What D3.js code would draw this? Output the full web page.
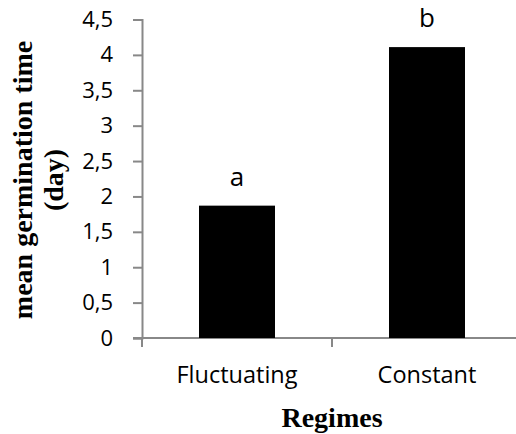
<!DOCTYPE html>
<html>
<head>
  <script src="https://cdnjs.cloudflare.com/ajax/libs/d3/7.8.5/d3.min.js"></script>
  <style>
    body { margin: 0; background: #fff; }
  </style>
</head>
<body>
  <svg width="516" height="434"></svg>
  <script>
    const categories = ['Fluctuating', 'Constant'];
    const values = [1.87, 4.11];
    const letters = ['a', 'b'];
    const yTicks = [0, 0.5, 1, 1.5, 2, 2.5, 3, 3.5, 4, 4.5];

    const svg = d3.select('svg');
    const axisColor = '#888';
    const sans = '"Open Sans", sans-serif';
    const serif = '"Liberation Serif", "Times New Roman", serif';

    const y = d3.scaleLinear().domain([0, 4.5]).range([338, 19.5]);
    const x = d3.scaleBand().domain(categories).range([142, 522])
      .paddingInner(0.6).paddingOuter(0.3);

    const fmt = d => String(d).replace('.', ',');

    // y axis
    const yAxis = svg.append('g')
      .attr('transform', 'translate(142,0)')
      .call(d3.axisLeft(y).tickValues(yTicks).tickFormat(fmt).tickSize(9).tickPadding(20));
    yAxis.select('.domain').attr('stroke', axisColor).attr('stroke-width', 2);
    yAxis.selectAll('.tick line').attr('stroke', axisColor).attr('stroke-width', 2);
    yAxis.selectAll('.tick text')
      .attr('fill', '#000')
      .style('font-family', sans)
      .style('font-size', '22px');

    // x axis line
    svg.append('line')
      .attr('x1', 133).attr('x2', 516)
      .attr('y1', y(0)).attr('y2', y(0))
      .attr('stroke', axisColor).attr('stroke-width', 2);

    // category boundary ticks
    const step = x.step();
    const boundaries = [x.range()[0], x.range()[0] + step];
    svg.selectAll('.xtick')
      .data(boundaries)
      .enter()
      .append('line')
      .attr('class', 'xtick')
      .attr('x1', d => d).attr('x2', d => d)
      .attr('y1', y(0)).attr('y2', y(0) + 9)
      .attr('stroke', axisColor).attr('stroke-width', 2);

    // bars
    svg.selectAll('.bar')
      .data(categories)
      .enter()
      .append('rect')
      .attr('class', 'bar')
      .attr('x', d => x(d))
      .attr('width', x.bandwidth())
      .attr('y', (d, i) => y(values[i]))
      .attr('height', (d, i) => y(0) - y(values[i]))
      .attr('fill', '#000');

    // letters above bars
    svg.selectAll('.letter')
      .data(categories)
      .enter()
      .append('text')
      .attr('class', 'letter')
      .attr('x', d => x(d) + x.bandwidth() / 2)
      .attr('y', (d, i) => y(values[i]) - 20)
      .attr('text-anchor', 'middle')
      .style('font-family', sans)
      .style('font-size', '26px')
      .text((d, i) => letters[i]);

    // category labels
    svg.selectAll('.cat')
      .data(categories)
      .enter()
      .append('text')
      .attr('class', 'cat')
      .attr('x', d => x(d) + x.bandwidth() / 2)
      .attr('y', 383)
      .attr('text-anchor', 'middle')
      .style('font-family', sans)
      .style('font-size', '23.5px')
      .text(d => d);

    // x axis title
    svg.append('text')
      .attr('x', 332)
      .attr('y', 427)
      .attr('text-anchor', 'middle')
      .style('font-family', serif)
      .style('font-weight', 'bold')
      .style('font-size', '28px')
      .text('Regimes');

    // y axis title
    const yTitle = svg.append('text')
      .attr('transform', 'translate(32,180) rotate(-90)')
      .attr('text-anchor', 'middle')
      .style('font-family', serif)
      .style('font-weight', 'bold')
      .style('font-size', '28px');
    yTitle.append('tspan').attr('x', 0).attr('y', 0).text('mean germination time');
    yTitle.append('tspan').attr('x', 0).attr('y', 31).text('(day)');
  </script>
</body>
</html>
